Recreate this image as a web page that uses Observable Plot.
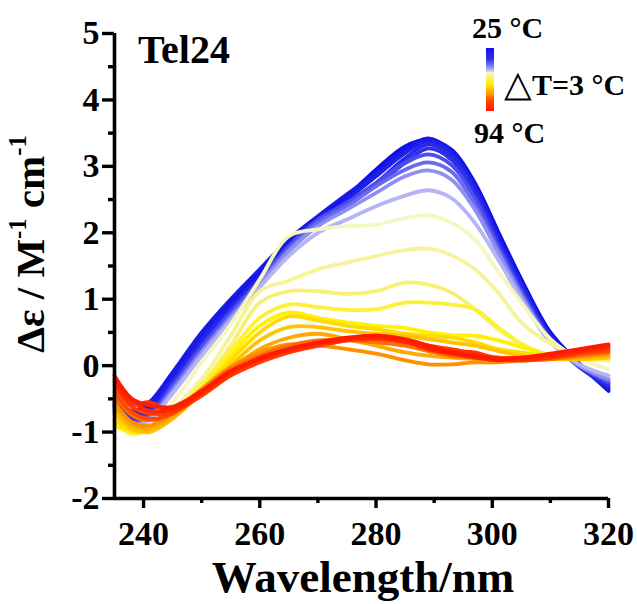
<!DOCTYPE html>
<html><head><meta charset="utf-8">
<script src="https://cdn.jsdelivr.net/npm/d3@7"></script>
<script src="https://cdn.jsdelivr.net/npm/@observablehq/plot@0.6"></script>
<style>
html,body{margin:0;padding:0;background:#fff;}
#wrap{position:relative;width:637px;height:604px;overflow:hidden;font-family:'Liberation Serif','Times New Roman',serif;font-weight:bold;color:#000;}
#wrap svg{position:absolute;left:0;top:0;}
.t{position:absolute;white-space:nowrap;line-height:1;}
.sup{font-size:0.6em;position:relative;top:-0.72em;}
.tri{font-size:1.2em;font-weight:normal;position:relative;top:0.04em;}
</style></head><body><div id="wrap"></div>
<script>
// ---- data ----
const wavelengths = [235, 238, 241, 245, 250, 255, 260, 265, 270, 275, 280, 285, 289, 293, 297, 301, 305, 310, 315, 320];
const temps = [25, 28, 31, 34, 37, 40, 43, 46, 49, 52, 55, 58, 61, 64, 67, 70, 73, 76, 79, 82, 85, 88, 91, 94];
const spectra = [
  [-0.55,-0.72,-0.62,-0.15,0.45,0.95,1.42,1.85,2.22,2.55,2.95,3.30,3.40,3.25,2.75,2.02,1.30,0.50,0.03,-0.38],
  [-0.50,-0.68,-0.55,-0.10,0.50,1.00,1.45,1.90,2.25,2.58,2.90,3.25,3.42,3.22,2.70,1.95,1.25,0.45,0.00,-0.35],
  [-0.60,-0.75,-0.65,-0.20,0.40,0.90,1.35,1.82,2.15,2.50,2.85,3.20,3.38,3.20,2.68,1.92,1.22,0.45,0.00,-0.33],
  [-0.58,-0.80,-0.70,-0.25,0.35,0.85,1.30,1.75,2.15,2.45,2.75,3.12,3.33,3.15,2.62,1.88,1.20,0.42,-0.02,-0.30],
  [-0.62,-0.82,-0.72,-0.28,0.30,0.82,1.30,1.78,2.18,2.45,2.72,3.05,3.27,3.10,2.58,1.85,1.15,0.40,-0.02,-0.27],
  [-0.65,-0.85,-0.75,-0.30,0.28,0.80,1.28,1.80,2.20,2.45,2.75,3.05,3.18,3.02,2.52,1.80,1.12,0.40,0.00,-0.25],
  [-0.68,-0.88,-0.78,-0.35,0.22,0.75,1.25,1.75,2.15,2.40,2.70,2.95,3.06,2.92,2.42,1.75,1.08,0.38,0.00,-0.22],
  [-0.70,-0.90,-0.80,-0.38,0.20,0.72,1.22,1.72,2.10,2.35,2.60,2.85,2.94,2.80,2.35,1.70,1.05,0.37,0.00,-0.20],
  [-0.72,-0.92,-0.82,-0.42,0.15,0.68,1.18,1.65,2.00,2.20,2.40,2.56,2.64,2.52,2.15,1.60,1.00,0.35,0.02,-0.15],
  [-0.80,-1.05,-0.92,-0.55,0.05,0.62,1.30,1.95,2.05,2.10,2.12,2.22,2.26,2.15,1.90,1.42,0.95,0.40,0.10,-0.05],
  [-0.82,-1.00,-0.92,-0.65,-0.20,0.45,1.12,1.28,1.45,1.55,1.65,1.74,1.76,1.66,1.45,1.10,0.65,0.33,0.15,0.08],
  [-0.85,-1.02,-0.95,-0.70,-0.28,0.30,0.95,1.12,1.12,1.08,1.12,1.25,1.22,1.10,0.85,0.55,0.32,0.16,0.10,0.08],
  [-0.88,-1.00,-0.95,-0.72,-0.30,0.22,0.72,0.92,0.88,0.84,0.85,0.95,0.95,0.92,0.85,0.58,0.33,0.15,0.10,0.12],
  [-0.90,-1.00,-0.98,-0.75,-0.35,0.15,0.60,0.80,0.72,0.65,0.60,0.57,0.50,0.46,0.45,0.38,0.28,0.15,0.10,0.12],
  [-0.82,-0.98,-0.98,-0.78,-0.38,0.08,0.50,0.74,0.68,0.60,0.55,0.48,0.45,0.42,0.35,0.25,0.20,0.12,0.10,0.12],
  [-0.72,-0.95,-1.00,-0.80,-0.40,0.00,0.38,0.58,0.58,0.52,0.48,0.45,0.40,0.35,0.30,0.22,0.15,0.10,0.10,0.12],
  [-0.62,-0.90,-0.95,-0.78,-0.40,-0.05,0.25,0.42,0.48,0.40,0.30,0.20,0.15,0.12,0.10,0.08,0.08,0.10,0.12,0.15],
  [-0.55,-0.85,-0.90,-0.72,-0.35,-0.02,0.20,0.32,0.30,0.25,0.18,0.08,0.02,0.02,0.05,0.05,0.08,0.10,0.15,0.18],
  [-0.45,-0.75,-0.82,-0.72,-0.38,-0.05,0.15,0.30,0.38,0.38,0.35,0.30,0.22,0.15,0.12,0.10,0.08,0.10,0.15,0.20],
  [-0.40,-0.70,-0.80,-0.72,-0.42,-0.12,0.08,0.22,0.30,0.38,0.40,0.35,0.28,0.22,0.15,0.12,0.10,0.12,0.18,0.22],
  [-0.30,-0.62,-0.72,-0.70,-0.45,-0.15,0.05,0.20,0.30,0.38,0.42,0.38,0.30,0.25,0.18,0.12,0.12,0.15,0.20,0.25],
  [-0.25,-0.58,-0.55,-0.68,-0.42,-0.12,0.10,0.22,0.32,0.40,0.45,0.38,0.30,0.22,0.20,0.10,0.08,0.12,0.20,0.28],
  [-0.20,-0.52,-0.68,-0.65,-0.40,-0.10,0.12,0.25,0.33,0.40,0.42,0.36,0.25,0.18,0.12,0.08,0.10,0.15,0.22,0.30],
  [-0.15,-0.50,-0.60,-0.62,-0.38,-0.08,0.10,0.25,0.35,0.42,0.45,0.40,0.30,0.20,0.15,0.10,0.12,0.18,0.25,0.32]
];
const xTicks = [240, 260, 280, 300, 320];
const xMinorTicks = [250, 270, 290, 310];
const yTicks = [-2, -1, 0, 1, 2, 3, 4, 5];
const yMinorTicks = [-1.5, -0.5, 0.5, 1.5, 2.5, 3.5, 4.5];
const colorStops = [25, 37, 43, 49, 52, 58, 64, 70, 76, 82, 94];
const colorRange = ["#1010e6", "#3030ea", "#6a6af0", "#b4b4f6", "#f6f6c0", "#f8f070", "#fff200", "#ffc400", "#ff9000", "#ff4800", "#ff1a00"];

// ---- build ----
const rows = [];
temps.forEach((T, i) => wavelengths.forEach((w, j) => rows.push({T, w, v: spectra[i][j]})));

const fmt = d => String(d);
const chart = Plot.plot({
  width: 637, height: 604,
  marginLeft: 114, marginRight: 29, marginTop: 33, marginBottom: 106,
  style: {fontFamily: "'Liberation Serif', serif", fontWeight: "bold", background: "white", overflow: "visible", color: "black"},
  x: {domain: [235, 320]},
  y: {domain: [-2, 5]},
  color: {type: "linear", domain: colorStops, range: colorRange, interpolate: "rgb"},
  marks: [
    Plot.line(rows, {x: "w", y: "v", z: "T", stroke: "T", curve: "catmull-rom", strokeWidth: 3.8, strokeLinejoin: "round", strokeLinecap: "round"}),
    Plot.ruleX([235], {strokeWidth: 3.6}),
    Plot.ruleY([-2], {strokeWidth: 3.6}),
    Plot.axisX({ticks: xTicks, tickSize: 10, tickPadding: 12, strokeWidth: 3.4, fontSize: 34, fontWeight: "bold", tickFormat: fmt, label: null}),
    Plot.axisX({ticks: xMinorTicks, tickSize: 5, strokeWidth: 3.4, tickFormat: () => "", label: null}),
    Plot.axisY({ticks: yTicks, tickSize: 12, tickPadding: 3, strokeWidth: 3.4, fontSize: 34, fontWeight: "bold", tickFormat: fmt, label: null}),
    Plot.axisY({ticks: yMinorTicks, tickSize: 6, strokeWidth: 3.4, tickFormat: () => "", label: null})
  ]
});
const wrap = document.getElementById("wrap");
wrap.appendChild(chart);

function addText(html, left, top, size, extra) {
  const d = document.createElement("div");
  d.className = "t";
  d.innerHTML = html;
  d.style.left = left + "px";
  d.style.top = top + "px";
  d.style.fontSize = size + "px";
  if (extra) Object.assign(d.style, extra);
  wrap.appendChild(d);
  return d;
}
addText("Tel24", 138, 30, 40);
addText("25 °C", 472, 13, 30);
addText("94 °C", 474, 118, 30);
addText('<span class="tri">△</span>T=3 °C', 504, 65, 30);
addText("Wavelength/nm", 363, 555, 45, {transform: "translateX(-50%)"});
addText('Δε / M<span class="sup">-1</span> cm<span class="sup">-1</span>', 29.5, 244, 41,
  {transform: "translate(-50%,-50%) rotate(-90deg)"});

const bar = document.createElement("div");
bar.style.position = "absolute";
bar.style.left = "486px"; bar.style.top = "48px";
bar.style.width = "8px"; bar.style.height = "63px";
bar.style.background = "linear-gradient(to bottom," + colorRange.map((c, i) =>
  c + " " + ((colorStops[i] - temps[0]) / (temps[temps.length - 1] - temps[0]) * 100).toFixed(1) + "%").join(",") + ")";
wrap.appendChild(bar);
</script></body></html>
